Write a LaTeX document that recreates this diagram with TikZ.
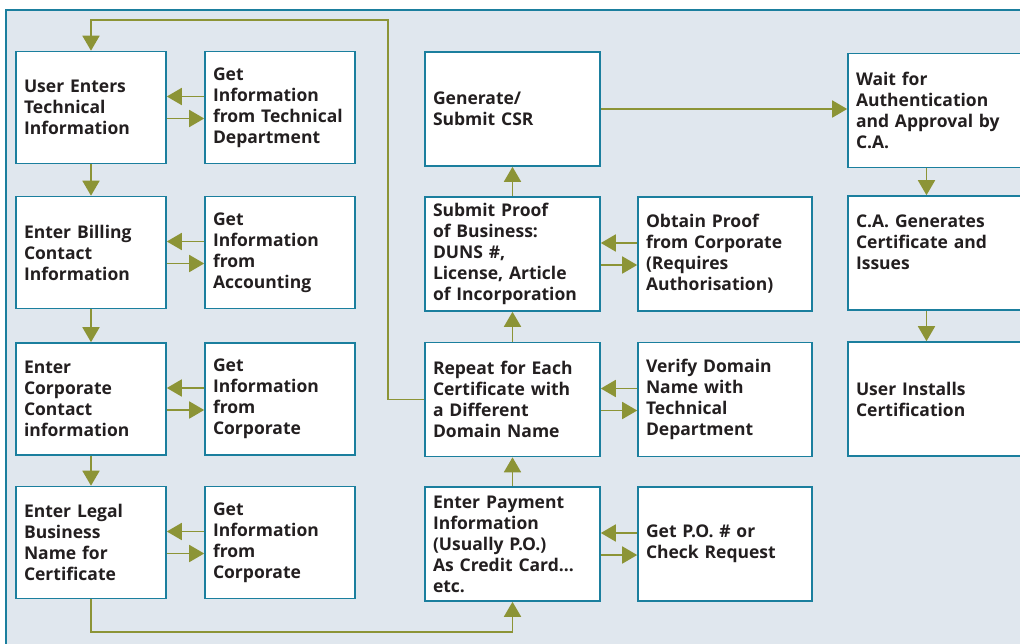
\documentclass[tikz,border=0pt]{standalone}
\usepackage{fontspec}
\setmainfont{Open Sans}
\usetikzlibrary{arrows.meta}

\definecolor{panelgrey}{HTML}{E0E7EE}
\definecolor{boxblue}{HTML}{1B7F9E}
\definecolor{flowgreen}{HTML}{8C9436}
\definecolor{textdark}{HTML}{231F20}

\tikzset{
  stage/.style={draw=boxblue, line width=1.6pt, fill=white, inner sep=0pt,
    minimum width=#1, text width=#1-16pt, minimum height=112pt, align=left,
    text=textdark, font=\bfseries\fontsize{17.5}{21}\selectfont},
  flow/.style={draw=flowgreen, line width=1.8pt, -{Triangle[length=15pt,width=17pt]}},
}

\begin{document}
\begin{tikzpicture}[x=1pt,y=-1pt]
    \clip (0,0) rectangle (1020,643);
    \draw[boxblue, line width=1.6pt, fill=panelgrey] (6,10) rectangle (1050,670);
    % left column: user data and where it comes from
    \node[stage=150] (userTech) at (91,107.5) {User Enters\\Technical\\Information};
    \node[stage=150] (techDept) at (280,107.5) {Get\\Information\\from Technical\\Department};
    \node[stage=150] (billing) at (91,252.5) {Enter Billing\\Contact\\Information};
    \node[stage=150] (accounting) at (280,252.5) {Get\\Information\\from\\Accounting};
    \node[stage=150] (corpContact) at (91,399) {Enter\\Corporate\\Contact\\information};
    \node[stage=150] (corporateA) at (280,399) {Get\\Information\\from\\Corporate};
    \node[stage=150] (legal) at (91,542.5) {Enter Legal\\Business\\Name for\\Certificate};
    \node[stage=150] (corporateB) at (280,542.5) {Get\\Information\\from\\Corporate};
    % middle columns
    \node[stage=175,minimum height=114pt] (csr) at (512.5,109) {Generate/\\Submit CSR};
    \node[stage=175,minimum height=114pt] (proof) at (512.5,254) {Submit Proof\\of Business:\\DUNS \#,\\License, Article\\of Incorporation};
    \node[stage=175,minimum height=114pt] (repeat) at (512.5,399.5) {Repeat for Each\\Certificate with\\a Different\\Domain Name};
    \node[stage=175,minimum height=114pt] (payment) at (512.5,544) {Enter Payment\\Information\\(Usually P.O.)\\As Credit Card...\\etc.};
    \node[stage=174,minimum height=114pt] (obtain) at (725,254) {Obtain Proof\\from Corporate\\(Requires\\Authorisation)};
    \node[stage=174,minimum height=114pt] (verify) at (725,399.5) {Verify Domain\\Name with\\Technical\\Department};
    \node[stage=174,minimum height=114pt] (purchase) at (725,544) {Get P.O. \# or\\Check Request};
    % right column
    \node[stage=175,minimum height=114pt] (approval) at (935.5,110.5) {Wait for\\Authentication\\and Approval by\\C.A.};
    \node[stage=175,minimum height=114pt] (issue) at (935.5,253) {C.A. Generates\\Certificate and\\Issues\\\mbox{}};
    \node[stage=175,minimum height=114pt] (install) at (935.5,399) {User Installs\\Certification};
    \coordinate (loopTop) at (388,20);
    \coordinate (loopBottom) at (300,632);

    \path (userTech) edge[flow] (billing)
    (billing) edge[flow] (corpContact)
    (corpContact) edge[flow] (legal)
    (payment) edge[flow] (repeat)
    (repeat) edge[flow] (proof)
    (proof) edge[flow] (csr)
    (csr.east) edge[flow] (csr.east -| approval.west)
    ([xshift=-9pt]approval.south) edge[flow] ([xshift=-9pt]issue.north)
    ([xshift=-9pt]issue.south) edge[flow] ([xshift=-9pt]install.north);
    \path ([yshift=11pt]techDept.west) edge[flow] ([yshift=11pt]userTech.east)
    ([yshift=-11pt]userTech.east) edge[flow] ([yshift=-11pt]techDept.west)
    ([yshift=11pt]accounting.west) edge[flow] ([yshift=11pt]billing.east)
    ([yshift=-11pt]billing.east) edge[flow] ([yshift=-11pt]accounting.west)
    ([yshift=11pt]corporateA.west) edge[flow] ([yshift=11pt]corpContact.east)
    ([yshift=-11pt]corpContact.east) edge[flow] ([yshift=-11pt]corporateA.west)
    ([yshift=11pt]corporateB.west) edge[flow] ([yshift=11pt]legal.east)
    ([yshift=-11pt]legal.east) edge[flow] ([yshift=-11pt]corporateB.west)
    ([yshift=11pt]obtain.west) edge[flow] ([yshift=11pt]proof.east)
    ([yshift=-11pt]proof.east) edge[flow] ([yshift=-11pt]obtain.west)
    ([yshift=11pt]verify.west) edge[flow] ([yshift=11pt]repeat.east)
    ([yshift=-11pt]repeat.east) edge[flow] ([yshift=-11pt]verify.west)
    ([yshift=11pt]purchase.west) edge[flow] ([yshift=11pt]payment.east)
    ([yshift=-11pt]payment.east) edge[flow] ([yshift=-11pt]purchase.west);
    \draw[flow] (repeat.west) -| (loopTop) -| (userTech.north);
    \draw[flow] (legal.south) |- (loopBottom) -| (payment.south);
  \end{tikzpicture}
\end{document}
